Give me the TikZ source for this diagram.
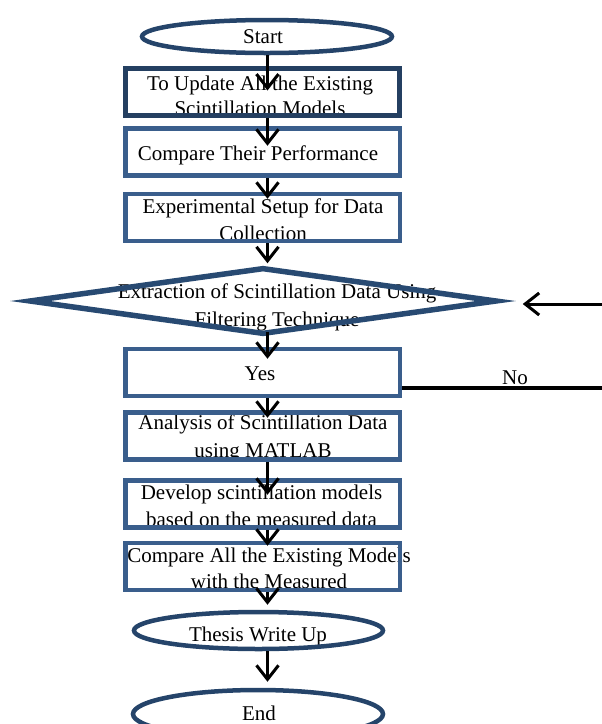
\documentclass[tikz,border=0pt]{standalone}
\usepackage{fontspec}
\setmainfont{Liberation Serif}
\usetikzlibrary{shapes.geometric,arrows.meta,calc}
\definecolor{boxblue}{RGB}{58,94,140}
\definecolor{darkbox}{RGB}{36,63,97}
\definecolor{ellblue}{RGB}{37,68,106}
\definecolor{diablue}{RGB}{40,74,114}
\begin{document}
\begin{tikzpicture}[x=1pt,y=-1pt,
  txt/.style={font=\fontsize{21}{27}\selectfont, align=center, inner sep=0pt},
  procbox/.style={draw=boxblue, line width=4.5pt, minimum width=274.5pt, minimum height=47pt, inner sep=0pt},
  termell/.style={ellipse, draw=ellblue, line width=4.5pt, inner sep=0pt},
  flow/.style={line width=3pt, -{Straight Barb[length=14pt,width=22pt]}}]
\useasboundingbox (0,0) rectangle (602,724);

% texts
\node[txt] (tstart) at (263,37) {Start};
\node[txt,font=\fontsize{21}{25}\selectfont] (t1) at (260,95.5) {To Update All the Existing\\Scintillation Models};
\node[txt] (t2) at (258,155) {Compare Their Performance};
\node[txt] (t3) at (263,219.5) {Experimental Setup for Data\\Collection};
\node[txt,font=\fontsize{21}{28.5}\selectfont] (t4) at (277,307.5) {Extraction of Scintillation Data Using\\Filtering Technique};
\node[txt] (t5) at (260,374) {Yes};
\node[txt,font=\fontsize{21}{28}\selectfont] (t6) at (263,438) {Analysis of Scintillation Data\\using MATLAB};
\node[txt] (t7) at (261.5,505.5) {Develop scintillation models\\based on the measured data};
\node[txt,font=\fontsize{21}{26}\selectfont] (t8) at (269,568) {Compare All the Existing Models\\with the Measured};
\node[txt] (t9) at (258,636) {Thesis Write Up};
\node[txt] (t10) at (259,713) {End};
\node[txt] (tno) at (515,378) {No};

% shapes
\node[termell, minimum width=250pt, minimum height=33pt] (start) at (267,36.5) {};
\node[procbox, draw=darkbox, line width=5pt] (b1) at (262.5,92) {};
\node[procbox] (b2) at (262.5,152) {};
\node[procbox] (b3) at (262.5,217.5) {};
\node[diamond, draw=diablue, line width=5.5pt, inner sep=0pt, minimum width=468pt, minimum height=67pt] (dia) at (263,301) {};
\node[procbox] (yes) at (262.5,372.5) {};
\node[procbox] (b6) at (262.5,436) {};
\node[procbox] (b7) at (262.5,504) {};
\node[procbox] (b8) at (262.5,566.5) {};
\node[termell, minimum width=249pt, minimum height=37pt] (thesis) at (258.5,630.5) {};
\node[termell, minimum width=250pt, minimum height=48pt] (end) at (258,714) {};

% connectors
\coordinate (ax) at (267.5,0);
\draw[flow] (ax |- start.south) -- ($(ax |- b1.north)+(0,24.5)$);
\draw[flow] (ax |- b1.south) -- ($(ax |- b2.north)+(0,19.5)$);
\draw[flow] (ax |- b2.south) -- ($(ax |- b3.north)+(0,7)$);
\draw[flow] (ax |- b3.south) -- ($(ax |- dia.north)+(0,-1.5)$);
\draw[flow] ($(ax |- dia.south)+(0,-5.5)$) -- ($(ax |- yes.north)+(0,12)$);
\draw[flow] (ax |- yes.south) -- ($(ax |- b6.north)+(0,7.5)$);
\draw[flow] (ax |- b6.south) -- ($(ax |- b7.north)+(0,16.5)$);
\draw[flow] (ax |- b7.south) -- ($(ax |- b8.north)+(0,5)$);
\draw[flow] (ax |- b8.south) -- ($(ax |- thesis.north)+(0,-5)$);
\draw[flow] (ax |- thesis.south) -- ($(ax |- end.north)+(0,-6)$);

\coordinate (rin) at (602,304);
\draw[flow] (rin) -- ($(dia.east |- rin)+(23,0)$);
\coordinate (noend) at (602,388);
\draw[line width=4pt] (yes.east |- noend) -- (noend);
\end{tikzpicture}
\end{document}
